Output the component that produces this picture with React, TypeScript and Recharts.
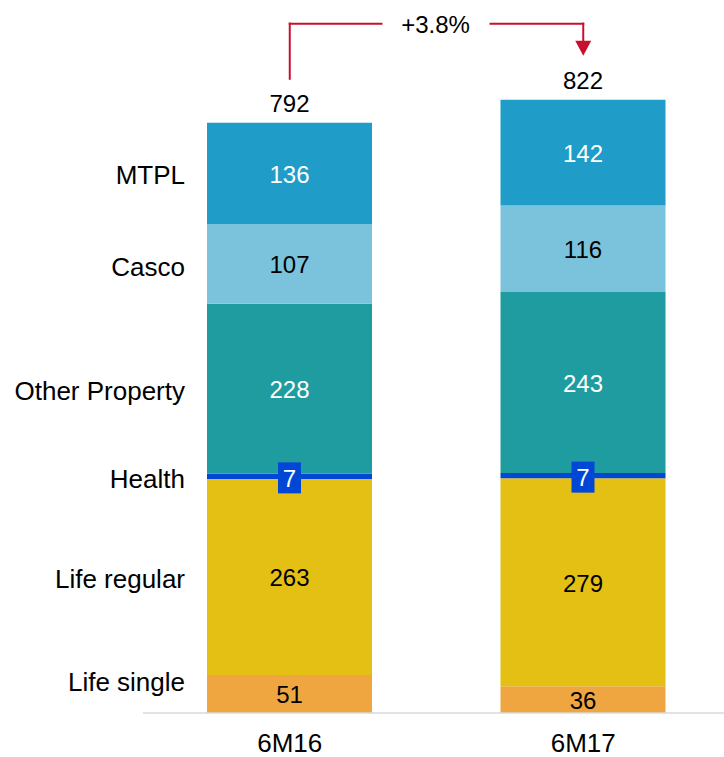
import { BarChart, Bar, XAxis, YAxis, LabelList, ReferenceLine, ReferenceDot } from "recharts";

// periods
const categories = ["6M16", "6M17"];

// segments, bottom to top (EUR m)
const lifeSingle = [51, 36];
const lifeRegular = [263, 279];
const health = [7, 7];
const otherProperty = [228, 243];
const casco = [107, 116];
const mtpl = [136, 142];

// reported totals and growth
const totals = [792, 822];
const growthLabel = "+3.8%";

const seriesKeys = ["lifeSingle", "lifeRegular", "health", "otherProperty", "casco", "mtpl"];
const seriesNames = ["Life single", "Life regular", "Health", "Other Property", "Casco", "MTPL"];
const seriesColors = ["#f0a640", "#e3c013", "#0047d6", "#1f9c9f", "#7bc3dc", "#1f9dc8"];
const labelColors = ["#000", "#000", "#fff", "#fff", "#000", "#fff"];
// small vertical nudges for the left-hand names
const nameOffsets = [-12, 2, 3, 2, 3, 2];

const data = categories.map((period, i) => ({
  period,
  lifeSingle: lifeSingle[i],
  lifeRegular: lifeRegular[i],
  health: health[i],
  otherProperty: otherProperty[i],
  casco: casco[i],
  mtpl: mtpl[i],
}));

const FONT = "'Liberation Sans', Arial, sans-serif";
const RED = "#c8102e";

// annotation levels, in chart units
const bracketTop = 925;
const leftBracketBottom = 851;
const arrowBase = 902;

const segmentLabel = (s: number) => (props: any) => {
  const x = Number(props.x);
  const y = Number(props.y);
  const width = Number(props.width);
  const height = Number(props.height);
  const index = props.index;
  const cx = x + width / 2;
  const cy = y + height / 2;
  const isHealth = seriesKeys[s] === "health";
  const isTop = s === seriesKeys.length - 1;
  return (
    <g>
      {isHealth && <rect x={cx - 11.5} y={cy - 14} width={23} height={31} fill="#0047d6" />}
      <text
        x={cx}
        y={cy + (isHealth ? 2 : 1)}
        textAnchor="middle"
        dominantBaseline="central"
        fill={labelColors[s]}
        fontSize={24}
        fontFamily={FONT}
      >
        {props.value}
      </text>
      {index === 0 && (
        <text
          x={x - 22}
          y={cy + nameOffsets[s]}
          textAnchor="end"
          dominantBaseline="central"
          fill="#000"
          fontSize={26}
          fontFamily={FONT}
        >
          {seriesNames[s]}
        </text>
      )}
      {isTop && (
        <text
          x={cx}
          y={y - 19}
          textAnchor="middle"
          dominantBaseline="central"
          fill="#000"
          fontSize={24}
          fontFamily={FONT}
        >
          {totals[index]}
        </text>
      )}
    </g>
  );
};

const growthText = (props: any) => {
  const vb = props.viewBox || {};
  const cx = Number(vb.x) + Number(vb.width) / 2;
  const cy = Number(vb.y);
  return (
    <g>
      <rect x={cx - 54} y={cy - 16} width={107} height={32} fill="#fff" />
      <text
        x={cx - 1}
        y={cy + 1}
        textAnchor="middle"
        dominantBaseline="central"
        fill="#000"
        fontSize={24}
        fontFamily={FONT}
      >
        {growthLabel}
      </text>
    </g>
  );
};

const arrowHead = (props: any) => {
  const cx = Number(props.cx);
  const cy = Number(props.cy);
  return <polygon points={`${cx - 8},${cy} ${cx + 8},${cy} ${cx},${cy + 15}`} fill={RED} />;
};

export default function App() {
  return (
    <div style={{ position: "absolute", left: 0, top: 0, width: 724, height: 757, overflow: "hidden", background: "#fff" }}>
      <BarChart
        width={730}
        height={757}
        data={data}
        margin={{ top: 5, right: 0, bottom: 0, left: 143 }}
        barSize={165}
      >
        <XAxis
          dataKey="period"
          height={44}
          axisLine={{ stroke: "#d9d9d9", strokeWidth: 1.5 }}
          tickLine={false}
          tickSize={0}
          tickMargin={21}
          tick={{ fontSize: 26, fill: "#000", fontFamily: FONT }}
        />
        <YAxis hide domain={[0, 950]} />
        {seriesKeys.map((key, s) => (
          <Bar key={key} dataKey={key} stackId="a" fill={seriesColors[s]} isAnimationActive={false}>
            <LabelList dataKey={key} content={segmentLabel(s)} />
          </Bar>
        ))}
        <ReferenceLine
          segment={[
            { x: categories[0], y: leftBracketBottom },
            { x: categories[0], y: bracketTop },
          ]}
          stroke={RED}
          strokeWidth={2}
          strokeLinecap="square"
        />
        <ReferenceLine
          segment={[
            { x: categories[1], y: bracketTop },
            { x: categories[1], y: arrowBase },
          ]}
          stroke={RED}
          strokeWidth={2}
          strokeLinecap="square"
        />
        <ReferenceLine
          segment={[
            { x: categories[0], y: bracketTop },
            { x: categories[1], y: bracketTop },
          ]}
          stroke={RED}
          strokeWidth={2}
          strokeLinecap="square"
          label={growthText}
        />
        <ReferenceDot x={categories[1]} y={arrowBase} r={0} shape={arrowHead} />
      </BarChart>
    </div>
  );
}
